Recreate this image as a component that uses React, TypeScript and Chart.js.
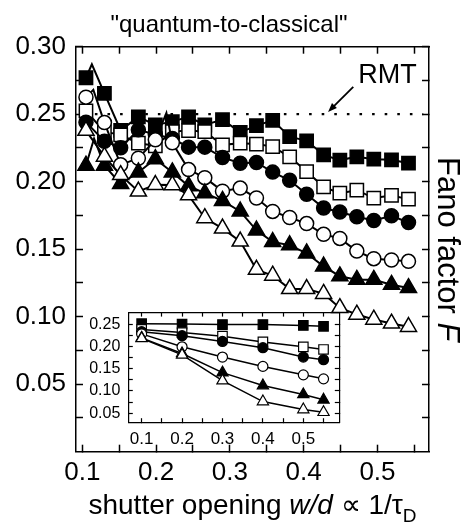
import React, { useEffect, useRef } from 'react';
import { Chart, registerables } from 'chart.js';

Chart.register(...registerables);

const FONT = "'Liberation Sans', Arial, Helvetica, sans-serif";

// ---------- main panel data ----------
const shutterOpening = [0.105, 0.13, 0.152, 0.176, 0.199, 0.222, 0.244, 0.266, 0.29, 0.314, 0.336, 0.358, 0.381, 0.404, 0.427, 0.449, 0.472, 0.495, 0.519, 0.542];

const fanoFilledSquare = [0.277, 0.2655, 0.238, 0.248, 0.242, 0.2445, 0.248, 0.242, 0.246, 0.2365, 0.2415, 0.2455, 0.2334, 0.2303, 0.2199, 0.216, 0.2184, 0.2167, 0.2162, 0.2137];
const fanoOpenSquare = [0.2524, 0.2371, 0.2347, 0.2285, 0.2266, 0.2371, 0.2379, 0.2371, 0.2273, 0.2285, 0.2279, 0.226, 0.2184, 0.2075, 0.1962, 0.1915, 0.1937, 0.1879, 0.1898, 0.1871];
const fanoFilledCircle = [0.2441, 0.23, 0.2252, 0.2384, 0.235, 0.232, 0.2256, 0.2256, 0.218, 0.2137, 0.2143, 0.2071, 0.201, 0.1907, 0.1805, 0.1776, 0.174, 0.1713, 0.1748, 0.1698];
const fanoOpenCircle = [0.2626, 0.2438, 0.2125, 0.2174, 0.231, 0.2288, 0.209, 0.203, 0.193, 0.1953, 0.1879, 0.178, 0.1735, 0.169, 0.161, 0.158, 0.1486, 0.143, 0.142, 0.141];
const fanoFilledTriangle = [0.212, 0.212, 0.1984, 0.207, 0.2168, 0.207, 0.1968, 0.1915, 0.1859, 0.178, 0.164, 0.1554, 0.153, 0.147, 0.1373, 0.13, 0.1274, 0.1274, 0.1237, 0.1213];
const fanoOpenTriangle = [0.2378, 0.2186, 0.205, 0.1928, 0.1977, 0.1975, 0.19, 0.1731, 0.1654, 0.1558, 0.1349, 0.1305, 0.1206, 0.1206, 0.117, 0.1065, 0.1016, 0.0979, 0.095, 0.0925];

// extra vertices of the measured curves (line only, no symbol)
const filledSquareLineExtra = [[0.113, 0.287]];
const openCircleLineExtra = [[0.115, 0.268], [0.214, 0.251]];
const filledTriangleLineExtra = [[0.116, 0.232]];

const rmtLevel = 0.25;
const rmtFrom = 0.1;
const rmtTo = 0.562;

const mainXTicks = [0.1, 0.15, 0.2, 0.25, 0.3, 0.35, 0.4, 0.45, 0.5, 0.55];
const mainXTickLabels = ['0.1', '', '0.2', '', '0.3', '', '0.4', '', '0.5', ''];
const mainYTicks = [0.025, 0.05, 0.075, 0.1, 0.125, 0.15, 0.175, 0.2, 0.225, 0.25, 0.275, 0.3];
const mainYTickLabels = ['', '0.05', '', '0.10', '', '0.15', '', '0.20', '', '0.25', '', '0.30'];

// ---------- inset data ----------
const insetOpening = [0.1, 0.2, 0.3, 0.4, 0.5, 0.55];
const insetFilledSquare = [0.251, 0.25, 0.249, 0.249, 0.247, 0.245];
const insetOpenSquare = [0.238, 0.231, 0.223, 0.21, 0.199, 0.193];
const insetFilledCircle = [0.233, 0.224, 0.211, 0.197, 0.176, 0.17];
const insetOpenCircle = [0.228, 0.199, 0.176, 0.155, 0.136, 0.127];
const insetFilledTriangle = [0.219, 0.184, 0.141, 0.112, 0.092, 0.08];
const insetOpenTriangle = [0.218, 0.181, 0.123, 0.076, 0.058, 0.052];

const insetXTicks = [0.1, 0.15, 0.2, 0.25, 0.3, 0.35, 0.4, 0.45, 0.5, 0.55];
const insetXTickLabels = ['0.1', '', '0.2', '', '0.3', '', '0.4', '', '0.5', ''];
const insetYTicks = [0.05, 0.075, 0.1, 0.125, 0.15, 0.175, 0.2, 0.225, 0.25];
const insetYTickLabels = ['0.05', '', '0.10', '', '0.15', '', '0.20', '', '0.25'];

// ---------- texts ----------
const plotTitle = '"quantum-to-classical"';
const xTitleParts = [
  { t: 'shutter opening ', s: 'n' },
  { t: 'w/d', s: 'i' },
  { t: ' \u221D 1/\u03C4', s: 'n' },
  { t: 'D', s: 'sub' },
];
const yTitleParts = [
  { t: 'Fano factor ', s: 'n' },
  { t: 'F', s: 'i' },
];
const rmtLabel = 'RMT';
const rmtLabelAt = [0.5136, 0.2729];
const rmtArrowFrom = [0.4672, 0.2702];
const rmtArrowTo = [0.433, 0.2517];

function partFont(s: string, size: number) {
  if (s === 'i') return `italic ${size}px ${FONT}`;
  if (s === 'sub') return `${Math.round(size * 0.68)}px ${FONT}`;
  return `${size}px ${FONT}`;
}

function drawParts(ctx: CanvasRenderingContext2D, parts: any[], cx: number, y: number, size: number) {
  let total = 0;
  const widths = parts.map((p) => {
    ctx.font = partFont(p.s, size);
    const w = ctx.measureText(p.t).width;
    total += w;
    return w;
  });
  let x = cx - total / 2;
  ctx.textAlign = 'left';
  parts.forEach((p, i) => {
    ctx.font = partFont(p.s, size);
    ctx.fillText(p.t, x, y + (p.s === 'sub' ? size * 0.28 : 0));
    x += widths[i];
  });
}

const textPlugin = {
  id: 'figureText',
  afterDraw(chart: any) {
    const { ctx, chartArea, scales } = chart;
    ctx.save();
    ctx.fillStyle = '#000';
    ctx.strokeStyle = '#000';
    ctx.textBaseline = 'alphabetic';
    ctx.textAlign = 'center';
    ctx.font = `24px ${FONT}`;
    ctx.fillText(plotTitle, 229, 32);

    drawParts(ctx, xTitleParts, (chartArea.left + chartArea.right) / 2, 514, 28);

    // RMT label + arrow
    const sx = scales.x, sy = scales.y;
    ctx.textAlign = 'center';
    ctx.font = `27px ${FONT}`;
    ctx.fillText(rmtLabel, sx.getPixelForValue(rmtLabelAt[0]), sy.getPixelForValue(rmtLabelAt[1]));
    const x1 = sx.getPixelForValue(rmtArrowFrom[0]);
    const y1 = sy.getPixelForValue(rmtArrowFrom[1]);
    const x2 = sx.getPixelForValue(rmtArrowTo[0]);
    const y2 = sy.getPixelForValue(rmtArrowTo[1]);
    const ang = Math.atan2(y2 - y1, x2 - x1);
    const hl = 9, hw = 3.5;
    ctx.lineWidth = 1.8;
    ctx.beginPath();
    ctx.moveTo(x1, y1);
    ctx.lineTo(x2 - Math.cos(ang) * hl * 0.8, y2 - Math.sin(ang) * hl * 0.8);
    ctx.stroke();
    ctx.beginPath();
    ctx.moveTo(x2, y2);
    ctx.lineTo(x2 - Math.cos(ang) * hl - Math.sin(ang) * hw, y2 - Math.sin(ang) * hl + Math.cos(ang) * hw);
    ctx.lineTo(x2 - Math.cos(ang) * hl + Math.sin(ang) * hw, y2 - Math.sin(ang) * hl - Math.cos(ang) * hw);
    ctx.closePath();
    ctx.fill();

    // right-hand axis title
    ctx.translate(438, (chartArea.top + chartArea.bottom) / 2);
    ctx.rotate(Math.PI / 2);
    drawParts(ctx, yTitleParts, 0, 0, 31);
    ctx.restore();
  },
};

function series(xs: number[], ys: number[], extra: number[][], style: string, filled: boolean, radius: number, lw: number, pbw: number) {
  const pts = xs
    .map((x, i) => ({ x, y: ys[i], m: true }))
    .concat(extra.map(([x, y]) => ({ x, y, m: false })))
    .sort((a, b) => a.x - b.x);
  return {
    data: pts,
    showLine: true,
    borderColor: '#000',
    borderWidth: lw,
    backgroundColor: filled ? '#000' : '#fff',
    pointStyle: style,
    pointRadius: (c: any) => (c.raw && c.raw.m ? radius : 0),
    pointHoverRadius: (c: any) => (c.raw && c.raw.m ? radius : 0),
    pointBackgroundColor: filled ? '#000' : '#fff',
    pointBorderColor: '#000',
    pointBorderWidth: pbw,
    tension: 0,
  };
}

function axis(opts: any) {
  const { position, min, max, ticks, labels, size, fixed, tickLen, padding, showLabels, bw } = opts;
  return {
    type: 'linear',
    position,
    min,
    max,
    afterBuildTicks: (s: any) => {
      s.ticks = ticks.map((v: number) => ({ value: v }));
    },
    afterFit: (s: any) => {
      if (position === 'left' || position === 'right') s.width = fixed;
      else s.height = fixed;
    },
    grid: {
      display: true,
      drawOnChartArea: false,
      drawTicks: true,
      tickLength: tickLen,
      tickWidth: bw,
      tickColor: '#000',
    },
    border: { display: true, color: '#000', width: bw },
    ticks: {
      display: showLabels,
      autoSkip: false,
      maxRotation: 0,
      minRotation: 0,
      padding,
      color: '#000',
      font: { family: FONT, size },
      callback: (_v: any, i: number) => (labels ? labels[i] : ''),
    },
  };
}

function MainChart() {
  const ref = useRef<HTMLCanvasElement>(null);
  useEffect(() => {
    const chart = new Chart(ref.current as HTMLCanvasElement, {
      type: 'scatter',
      data: {
        datasets: [
          series(shutterOpening, fanoOpenTriangle, [], 'triangle', false, 9.3, 2, 1.5),
          series(shutterOpening, fanoFilledTriangle, filledTriangleLineExtra, 'triangle', true, 9.3, 2, 1.5),
          series(shutterOpening, fanoOpenCircle, openCircleLineExtra, 'circle', false, 7, 2, 1.5),
          series(shutterOpening, fanoFilledCircle, [], 'circle', true, 7, 2, 1.5),
          series(shutterOpening, fanoOpenSquare, [], 'rect', false, 9.4, 2, 1.5),
          series(shutterOpening, fanoFilledSquare, filledSquareLineExtra, 'rect', true, 9.4, 2, 1.5),
          {
            data: [
              { x: rmtFrom, y: rmtLevel },
              { x: rmtTo, y: rmtLevel },
            ],
            showLine: true,
            borderColor: '#000',
            borderWidth: 2.2,
            borderDash: [2.6, 10],
            pointRadius: 0,
            pointHoverRadius: 0,
          },
        ],
      } as any,
      options: {
        responsive: false,
        animation: false,
        devicePixelRatio: 1,
        events: [],
        layout: { padding: 0 },
        plugins: { legend: { display: false }, tooltip: { enabled: false }, title: { display: false } },
        scales: {
          x: axis({ position: 'bottom', min: 0.0915, max: 0.5698, ticks: mainXTicks, labels: mainXTickLabels, size: 26, fixed: 77.3, tickLen: -7, padding: 13, showLabels: true, bw: 1.5 }),
          x2: axis({ position: 'top', min: 0.0915, max: 0.5698, ticks: mainXTicks, labels: null, size: 26, fixed: 46.7, tickLen: -7, padding: 0, showLabels: false, bw: 1.5 }),
          y: axis({ position: 'left', min: 0, max: 0.3, ticks: mainYTicks, labels: mainYTickLabels, size: 26, fixed: 76, tickLen: -7, padding: 17, showLabels: true, bw: 1.5 }),
          y2: axis({ position: 'right', min: 0, max: 0.3, ticks: mainYTicks, labels: null, size: 26, fixed: 38, tickLen: -7, padding: 0, showLabels: false, bw: 1.5 }),
        },
      } as any,
      plugins: [textPlugin as any],
    });
    return () => chart.destroy();
  }, []);
  return (
    <canvas
      ref={ref}
      width={467}
      height={529}
      style={{ position: 'absolute', left: 0, top: 0, width: 467, height: 529, zIndex: 2 }}
    />
  );
}

function InsetChart() {
  const ref = useRef<HTMLCanvasElement>(null);
  useEffect(() => {
    const chart = new Chart(ref.current as HTMLCanvasElement, {
      type: 'scatter',
      data: {
        datasets: [
          series(insetOpening, insetOpenTriangle, [], 'triangle', false, 6.5, 1.5, 1.2),
          series(insetOpening, insetFilledTriangle, [], 'triangle', true, 6.5, 1.5, 1.2),
          series(insetOpening, insetOpenCircle, [], 'circle', false, 5, 1.5, 1.2),
          series(insetOpening, insetFilledCircle, [], 'circle', true, 5, 1.5, 1.2),
          series(insetOpening, insetOpenSquare, [], 'rect', false, 6.7, 1.5, 1.2),
          series(insetOpening, insetFilledSquare, [], 'rect', true, 6.7, 1.5, 1.2),
        ],
      } as any,
      options: {
        responsive: false,
        animation: false,
        devicePixelRatio: 1,
        events: [],
        layout: { padding: 0 },
        plugins: { legend: { display: false }, tooltip: { enabled: false }, title: { display: false } },
        scales: {
          x: axis({ position: 'bottom', min: 0.067, max: 0.589, ticks: insetXTicks, labels: insetXTickLabels, size: 17, fixed: 27.3, tickLen: -4.5, padding: 11, showLabels: true, bw: 1.2 }),
          x2: axis({ position: 'top', min: 0.067, max: 0.589, ticks: insetXTicks, labels: null, size: 17, fixed: 9.3, tickLen: -4.5, padding: 0, showLabels: false, bw: 1.2 }),
          y: axis({ position: 'left', min: 0.0285, max: 0.277, ticks: insetYTicks, labels: insetYTickLabels, size: 16, fixed: 48.3, tickLen: -4.5, padding: 12.5, showLabels: true, bw: 1.2 }),
          y2: axis({ position: 'right', min: 0.0285, max: 0.277, ticks: insetYTicks, labels: null, size: 16, fixed: 8.7, tickLen: -4.5, padding: 0, showLabels: false, bw: 1.2 }),
        },
      } as any,
    });
    return () => chart.destroy();
  }, []);
  return (
    <canvas
      ref={ref}
      width={268}
      height={160}
      style={{ position: 'absolute', left: 80, top: 290, width: 268, height: 160, zIndex: 1 }}
    />
  );
}

export default function App() {
  return (
    <div style={{ position: 'absolute', left: 0, top: 0, width: 467, height: 529, background: '#fff' }}>
      <InsetChart />
      <MainChart />
    </div>
  );
}
